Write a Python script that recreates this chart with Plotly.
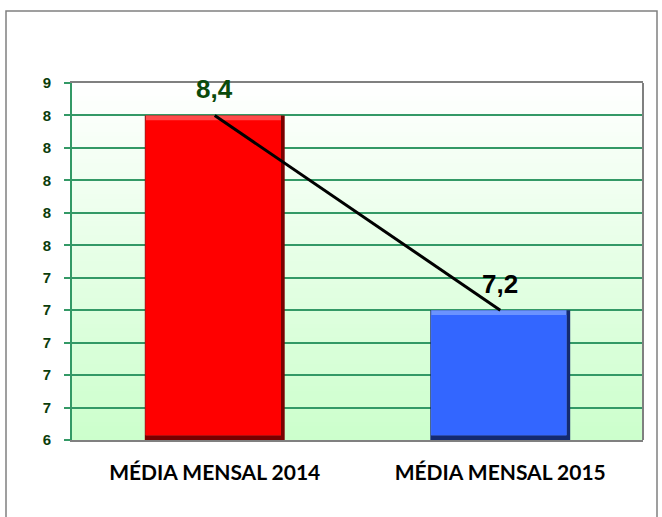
import plotly.graph_objects as go

# ---- data ----
categories = ["MÉDIA MENSAL 2014", "MÉDIA MENSAL 2015"]
values = [8.4, 7.2]
bar_colors = ["#ff0000", "#3366ff"]
bar_light_colors = ["#ff4a4a", "#6b93ff"]
bar_edge_colors = ["#7a0000", "#142a70"]
label_colors = ["#0b4a0b", "#000000"]
tick_vals = [6.4, 6.6, 6.8, 7.0, 7.2, 7.4, 7.6, 7.8, 8.0, 8.2, 8.4, 8.6]
tick_labels = ["6", "7", "7", "7", "7", "7", "8", "8", "8", "8", "8", "9"]
y_range = [6.4, 8.6]

GREEN = "#339966"
GRAY = "#808080"
BEVEL = 0.03  # bevel thickness in axis units

fig = go.Figure()

# dark base bars (bevelled right / bottom edges)
fig.add_trace(go.Bar(
    x=categories, y=[v - y_range[0] for v in values], base=y_range[0],
    width=0.49, offset=-0.245,
    marker=dict(color=bar_edge_colors, line=dict(width=0)),
    hoverinfo="skip", showlegend=False,
))
# light top bevel
fig.add_trace(go.Bar(
    x=categories, y=[v - y_range[0] - BEVEL for v in values], base=y_range[0] + BEVEL,
    width=0.474, offset=-0.242,
    marker=dict(color=bar_light_colors, line=dict(width=0)),
    hoverinfo="skip", showlegend=False,
))
# main bar faces
fig.add_trace(go.Bar(
    x=categories, y=[v - y_range[0] - 2 * BEVEL for v in values], base=y_range[0] + BEVEL,
    width=0.474, offset=-0.242,
    marker=dict(color=bar_colors, line=dict(width=0)),
    hoverinfo="skip", showlegend=False,
))

# connecting line
fig.add_trace(go.Scatter(
    x=categories, y=values, mode="lines",
    line=dict(color="black", width=3),
    hoverinfo="skip", showlegend=False, cliponaxis=False,
))

# value labels
annotations = []
for c, v, col in zip(categories, values, label_colors):
    annotations.append(dict(
        x=c, y=v, xref="x", yref="y", text=f"{v:.1f}".replace(".", ","),
        showarrow=False, yanchor="bottom", yshift=9,
        font=dict(family="Liberation Sans, Arial, sans-serif", size=26, color=col, weight="bold"),
    ))

# gradient plot background made of thin bands
shapes = []
n = 80
for i in range(n):
    t = i / (n - 1)
    r = round(0xcc + (0xff - 0xcc) * t)
    b = round(0xcc + (0xff - 0xcc) * t)
    shapes.append(dict(type="rect", xref="paper", yref="paper",
                       x0=0, x1=1, y0=i / n, y1=(i + 1) / n + 0.002,
                       fillcolor=f"rgb({r},255,{b})", line=dict(width=0), layer="below"))
# right border of plot area
shapes.append(dict(type="line", xref="paper", yref="paper", x0=1, x1=1, y0=0, y1=1,
                   line=dict(color=GRAY, width=2), layer="above"))
# outer chart border
shapes.append(dict(type="rect", xref="paper", yref="paper",
                   x0=(6 - 72) / 571, x1=(657 - 72) / 571,
                   y0=-(530 - 440) / 357, y1=(440 - 11) / 357,
                   line=dict(color=GRAY, width=1.5), fillcolor="rgba(0,0,0,0)", layer="below"))

fig.update_layout(
    width=662, height=517,
    margin=dict(l=72, r=19, t=83, b=77),
    paper_bgcolor="white", plot_bgcolor="rgba(0,0,0,0)",
    barmode="overlay",
    shapes=shapes,
    annotations=annotations,
    xaxis=dict(
        showgrid=False, showline=True, linecolor=GRAY, linewidth=2, mirror=True,
        tickfont=dict(family="Lato, sans-serif", size=21, color="black", weight="bold"),
        ticks="", ticklabelstandoff=13,
        range=[-0.5, 1.5],
    ),
    yaxis=dict(
        range=y_range, tickvals=tick_vals, ticktext=tick_labels,
        showgrid=True, gridcolor=GREEN, gridwidth=1.5,
        showline=True, linecolor=GREEN, linewidth=2,
        ticks="outside", ticklen=6, tickcolor=GREEN, tickwidth=1.5,
        tickfont=dict(family="Liberation Sans, Arial, sans-serif", size=15, color="#0b3d0b", weight="bold"),
        ticklabelstandoff=10,
        zeroline=False,
    ),
)

fig.write_html("out.html", config={"displayModeBar": False},
               post_script="document.body.style.margin='0';document.body.style.padding='0';")
